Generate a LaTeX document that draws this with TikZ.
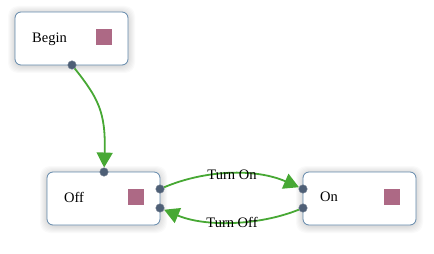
\documentclass[tikz,border=0pt]{standalone}
\usepackage{fontspec}
\setmainfont{Liberation Serif}
\usetikzlibrary{arrows.meta}
\definecolor{boxline}{HTML}{6288AB}
\definecolor{portfill}{HTML}{4E5F76}
\definecolor{flow}{HTML}{47A834}
\definecolor{marker}{HTML}{AD6985}
\tikzset{
  statebox/.style={draw=boxline, line width=0.8pt, fill=white, rounded corners=6pt,
    minimum width=113pt, minimum height=53pt, inner sep=0pt},
  haze/.style={fill=black, fill opacity=0.018, rounded corners=10pt,
    minimum width=113pt+#1, minimum height=53pt+#1, inner sep=0pt},
  statelabel/.style={font=\fontsize{14.5}{16}\selectfont, anchor=west, inner sep=0pt},
  markerbox/.style={fill=marker, minimum size=16pt, inner sep=0pt},
  port/.style={circle, fill=portfill, draw=portfill!80!white, line width=0.4pt, minimum size=8.5pt, inner sep=0pt},
  flowline/.style={draw=flow, line width=1.8pt, -{Triangle[length=15pt,width=16pt]}},
  edgelabel/.style={font=\fontsize{14.5}{16}\selectfont, inner sep=0pt}
}
% soft shadow made of stacked translucent rounded rectangles
\newcommand{\softshadow}[1]{%
  \foreach \g in {2,4,...,14} {\node[haze=\g pt] at (#1) {};}%
}
\begin{document}
\begin{tikzpicture}[x=1pt,y=-1pt]
  \useasboundingbox (0,0) rectangle (434,254);
  \fill[white] (0,0) rectangle (434,254);

  % shadows behind the state boxes
  \softshadow{71.5,39.5}
  \softshadow{103.5,199.5}
  \softshadow{359.5,199.5}

  % state boxes
  \node[statebox] (begin) at (71.5,38.5) {};
  \node[statebox] (off) at (103.5,198.5) {};
  \node[statebox] (on) at (359.5,198.5) {};

  \node[statelabel] (beginlabel) at (32,39) {Begin};
  \node[statelabel] (offlabel) at (64,197) {Off};
  \node[statelabel] (onlabel) at (320,197) {On};

  \node[markerbox] (beginmark) at (104,37) {};
  \node[markerbox] (offmark) at (136,197) {};
  \node[markerbox] (onmark) at (392,197) {};

  % connection ports
  \node[port] (beginout) at (72,65) {};
  \node[port] (offin) at (104,172) {};
  \node[port] (offout) at (160,189) {};
  \node[port] (offback) at (160,208) {};
  \node[port] (onin) at (303,189) {};
  \node[port] (onout) at (303,208) {};

  % transitions
  \draw[flowline] (beginout) .. controls (98,98) and (106,112) .. (offin);
  \draw[flowline] (offout) .. controls (205,170) and (255,168) .. (onin);
  \draw[flowline] (onout) .. controls (258,226) and (205,227) .. (offback);

  \node[edgelabel] (turnon) at (232,175) {Turn On};
  \node[edgelabel] (turnoff) at (232,222) {Turn Off};
\end{tikzpicture}
\end{document}
